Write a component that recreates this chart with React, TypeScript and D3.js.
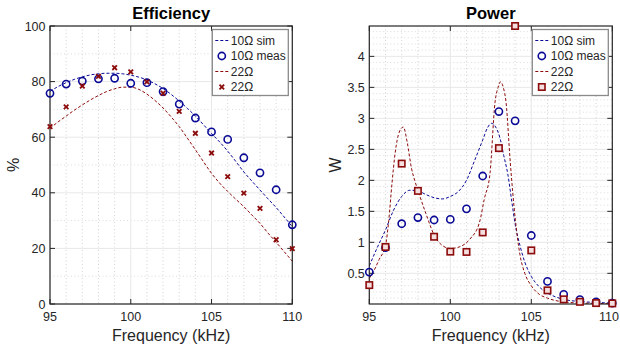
import React from "react";
import * as d3 from "d3";

// ---------- DATA ----------
const measFreq = [95, 96, 97, 98, 99, 100, 101, 102, 103, 104, 105, 106, 107, 108, 109, 110];

// Efficiency (%)
const eff10Meas = [75.8, 79.1, 80.2, 81.0, 81.2, 79.4, 79.6, 76.4, 71.9, 66.9, 61.9, 59.2, 52.6, 47.2, 41.1, 28.5];
const eff22Meas = [63.8, 70.9, 78.4, 81.9, 85.0, 83.5, 79.9, 75.8, 69.3, 61.4, 54.3, 45.8, 39.9, 34.4, 23.1, 19.9];

const effSimFreq = [95, 95.5, 96, 96.5, 97, 97.5, 98, 98.5, 99, 99.5, 100, 100.5, 101, 101.5, 102, 102.5, 103, 103.5, 104, 104.5, 105, 105.5, 106, 106.5, 107, 107.5, 108, 108.5, 109, 109.5, 110];
const eff10Sim = [76.5, 78.2, 79.6, 80.8, 81.7, 82.4, 82.8, 83.0, 83.0, 82.8, 82.3, 81.6, 80.6, 79.2, 77.5, 75.4, 73.0, 70.4, 67.6, 64.5, 61.3, 58.3, 55.0, 51.3, 47.5, 44.2, 41.0, 37.8, 34.7, 31.3, 27.8];
const eff22Sim = [63.2, 65.5, 67.6, 69.7, 71.6, 73.4, 75.0, 76.4, 77.4, 78.0, 78.0, 77.2, 75.5, 73.2, 70.5, 67.3, 63.8, 59.7, 55.5, 51.2, 47.0, 43.5, 40.5, 37.7, 35.0, 32.0, 29.0, 25.5, 22.2, 18.8, 15.4];

// Power (W)
const pow10Meas = [0.52, 0.915, 1.30, 1.40, 1.36, 1.37, 1.54, 2.07, 3.11, 2.96, 1.11, 0.37, 0.16, 0.075, 0.04, 0.02];
const pow22Meas = [0.31, 0.925, 2.27, 1.83, 1.09, 0.85, 0.845, 1.16, 2.52, 4.49, 0.87, 0.225, 0.08, 0.04, 0.02, 0.015];

const pow10SimFreq = [95, 95.5, 96, 96.5, 97, 97.5, 98, 98.5, 99, 99.5, 100, 100.5, 101, 101.5, 102, 102.3, 102.55, 102.8, 103.07, 103.3, 103.55, 103.8, 104, 104.3, 104.6, 105, 105.5, 106, 106.5, 107, 108, 109, 110];
const pow10Sim = [0.62, 0.92, 1.2, 1.52, 1.74, 1.84, 1.83, 1.77, 1.72, 1.70, 1.74, 1.82, 2.0, 2.32, 2.65, 2.85, 2.92, 2.86, 2.68, 2.4, 2.1, 1.65, 1.3, 0.95, 0.68, 0.45, 0.28, 0.18, 0.12, 0.08, 0.045, 0.03, 0.02];

const pow22SimFreq = [95, 95.3, 95.6, 96, 96.2, 96.4, 96.6, 96.85, 97.1, 97.35, 97.6, 97.8, 98, 98.5, 99, 99.5, 100, 100.6, 101.2, 101.8, 102.1, 102.45, 102.76, 102.95, 103.1, 103.27, 103.44, 103.7, 104, 104.3, 104.6, 105, 105.5, 106, 106.5, 107, 108, 109, 110];
const pow22Sim = [0.42, 0.55, 0.72, 0.95, 1.35, 1.95, 2.45, 2.78, 2.86, 2.6, 2.2, 2.0, 1.84, 1.46, 1.12, 0.95, 0.9, 0.93, 1.05, 1.32, 1.7, 2.11, 3.26, 3.5, 3.59, 3.5, 3.26, 2.3, 1.4, 0.8, 0.5, 0.3, 0.16, 0.1, 0.06, 0.04, 0.02, 0.015, 0.01];

const xTicks = [95, 100, 105, 110];
const xMinor = [96, 97, 98, 99, 101, 102, 103, 104, 106, 107, 108, 109];
const effTicks = [0, 20, 40, 60, 80, 100];
const effMinor = [10, 30, 50, 70, 90];
const powTicks = [0.5, 1, 1.5, 2, 2.5, 3, 3.5, 4];
const powMinor = [0.1, 0.2, 0.3, 0.4, 0.6, 0.7, 0.8, 0.9, 1.1, 1.2, 1.3, 1.4, 1.6, 1.7, 1.8, 1.9, 2.1, 2.2, 2.3, 2.4, 2.6, 2.7, 2.8, 2.9, 3.1, 3.2, 3.3, 3.4, 3.6, 3.7, 3.8, 3.9, 4.1, 4.2, 4.3, 4.4];

const legendLabels = ["10\u03a9 sim", "10\u03a9 meas", "22\u03a9", "22\u03a9"];

// ---------- STYLE ----------
const BLUE = "#0a0a96";
const RED = "#8c0b0b";
const AXIS = "#262626";
const FONT = "'Liberation Sans', Arial, Helvetica, sans-serif";

type PanelProps = {
  left: number; right: number; top: number; bottom: number;
  yDomain: [number, number];
  yTicks: number[]; yMinor: number[];
  title: string; yLabel: string; yLabelX: number;
  sim10x: number[]; sim10y: number[];
  sim22x: number[]; sim22y: number[];
  meas10: number[]; meas22: number[];
  marker22: "x" | "square";
};

function Panel(p: PanelProps) {
  const x = d3.scaleLinear().domain([95, 110]).range([p.left, p.right]);
  const y = d3.scaleLinear().domain(p.yDomain).range([p.bottom, p.top]);
  const line = d3.line<[number, number]>().x(d => x(d[0])).y(d => y(d[1])).curve(d3.curveMonotoneX);
  const s10 = line(p.sim10x.map((f, i) => [f, p.sim10y[i]] as [number, number])) || "";
  const s22 = line(p.sim22x.map((f, i) => [f, p.sim22y[i]] as [number, number])) || "";
  const tl = 5;
  const cx = (p.left + p.right) / 2;
  const cy = (p.top + p.bottom) / 2;

  const xMark = (px: number, py: number, k: string) => (
    <g key={k} stroke={RED} strokeWidth={1.8}>
      <line x1={px - 2.3} y1={py - 2.3} x2={px + 2.3} y2={py + 2.3} />
      <line x1={px - 2.3} y1={py + 2.3} x2={px + 2.3} y2={py - 2.3} />
    </g>
  );
  const sqMark = (px: number, py: number, k: string) => (
    <rect key={k} x={px - 3.2} y={py - 3.2} width={6.4} height={6.4} fill="#f4dede" stroke={RED} strokeWidth={1.6} />
  );
  const circ = (px: number, py: number, k: string) => (
    <circle key={k} cx={px} cy={py} r={3.6} fill="none" stroke={BLUE} strokeWidth={1.6} />
  );

  // legend
  const lgL = p.right - 80;
  const lgR = p.right - 4;
  const lgT = 29.5;
  const lgB = 95.5;
  const rowY = [40.5, 56, 71.5, 87];

  return (
    <g fontFamily={FONT}>
      <rect x={p.left} y={p.top} width={p.right - p.left} height={p.bottom - p.top} fill="#ffffff" />
      {/* minor grid */}
      {xMinor.map(v => (
        <line key={"xm" + v} x1={x(v)} x2={x(v)} y1={p.top} y2={p.bottom} stroke="#c8c8c8" strokeWidth={0.8} strokeDasharray="1,2.5" />
      ))}
      {p.yMinor.map(v => (
        <line key={"ym" + v} x1={p.left} x2={p.right} y1={y(v)} y2={y(v)} stroke="#d2d2d2" strokeWidth={0.8} strokeDasharray="1,2.5" />
      ))}
      {/* major grid */}
      {xTicks.map(v => (
        <line key={"xg" + v} x1={x(v)} x2={x(v)} y1={p.top} y2={p.bottom} stroke="#e8e8e8" strokeWidth={1} />
      ))}
      {p.yTicks.map(v => (
        <line key={"yg" + v} x1={p.left} x2={p.right} y1={y(v)} y2={y(v)} stroke="#e8e8e8" strokeWidth={1} />
      ))}
      {/* sim curves */}
      <path d={s10} fill="none" stroke={BLUE} strokeWidth={1} strokeDasharray="3,2" />
      <path d={s22} fill="none" stroke={RED} strokeWidth={1} strokeDasharray="3,2" />
      {/* axes box */}
      <rect x={p.left} y={p.top} width={p.right - p.left} height={p.bottom - p.top} fill="none" stroke={AXIS} strokeWidth={1.2} />
      {xTicks.map(v => {
        const tx = Math.min(x(v), 620 - 11);
        return (
          <g key={"xt" + v}>
            <line x1={x(v)} x2={x(v)} y1={p.bottom} y2={p.bottom - tl} stroke={AXIS} />
            <line x1={x(v)} x2={x(v)} y1={p.top} y2={p.top + tl} stroke={AXIS} />
            <text x={tx} y={321} textAnchor="middle" fontSize={12.5} fill={AXIS}>{v}</text>
          </g>
        );
      })}
      {p.yTicks.map(v => (
        <g key={"yt" + v}>
          <line x1={p.left} x2={p.left + tl} y1={y(v)} y2={y(v)} stroke={AXIS} />
          <line x1={p.right} x2={p.right - tl} y1={y(v)} y2={y(v)} stroke={AXIS} />
          <text x={p.left - 4.5} y={y(v) + 4.5} textAnchor="end" fontSize={12.5} fill={AXIS}>{v}</text>
        </g>
      ))}
      {/* measured markers */}
      {p.meas10.map((v, i) => circ(x(measFreq[i]), y(v), "c" + i))}
      {p.meas22.map((v, i) => p.marker22 === "x" ? xMark(x(measFreq[i]), y(v), "m" + i) : sqMark(x(measFreq[i]), y(v), "m" + i))}
      {/* labels */}
      <text x={cx} y={18.5} textAnchor="middle" fontSize={16.5} fontWeight="bold" fill="#000">{p.title}</text>
      <text x={cx} y={340.5} textAnchor="middle" fontSize={16} fill={AXIS}>Frequency (kHz)</text>
      <text transform={`translate(${p.yLabelX},${cy}) rotate(-90)`} textAnchor="middle" fontSize={16} fill={AXIS}>{p.yLabel}</text>
      {/* legend */}
      <rect x={lgL} y={lgT} width={lgR - lgL} height={lgB - lgT} fill="#ffffff" stroke="#8a8a8a" strokeWidth={1.3} />
      <line x1={lgL + 3} x2={lgL + 18} y1={rowY[0]} y2={rowY[0]} stroke={BLUE} strokeDasharray="3,2" />
      {circ(lgL + 9.5, rowY[1], "lc")}
      <line x1={lgL + 3} x2={lgL + 18} y1={rowY[2]} y2={rowY[2]} stroke={RED} strokeDasharray="3,2" />
      {p.marker22 === "x" ? xMark(lgL + 9.5, rowY[3], "lx") : sqMark(lgL + 9.5, rowY[3], "lx")}
      {legendLabels.map((t, i) => (
        <text key={"lg" + i} x={lgL + 18.5} y={rowY[i] + 4.3} fontSize={12} fill={AXIS}>{t}</text>
      ))}
    </g>
  );
}

export default function App() {
  return (
    <svg width={620} height={348} style={{ position: "absolute", left: 0, top: 0, background: "#ffffff" }}>
      <rect width={620} height={348} fill="#ffffff" />
      <Panel
        left={50} right={292.3} top={26} bottom={304}
        yDomain={[0, 100]} yTicks={effTicks} yMinor={effMinor}
        title="Efficiency" yLabel="%" yLabelX={19}
        sim10x={effSimFreq} sim10y={eff10Sim} sim22x={effSimFreq} sim22y={eff22Sim}
        meas10={eff10Meas} meas22={eff22Meas} marker22="x"
      />
      <Panel
        left={369.3} right={612.3} top={26} bottom={304}
        yDomain={[0.005, 4.49]} yTicks={powTicks} yMinor={powMinor}
        title="Power" yLabel="W" yLabelX={341}
        sim10x={pow10SimFreq} sim10y={pow10Sim} sim22x={pow22SimFreq} sim22y={pow22Sim}
        meas10={pow10Meas} meas22={pow22Meas} marker22="square"
      />
    </svg>
  );
}
